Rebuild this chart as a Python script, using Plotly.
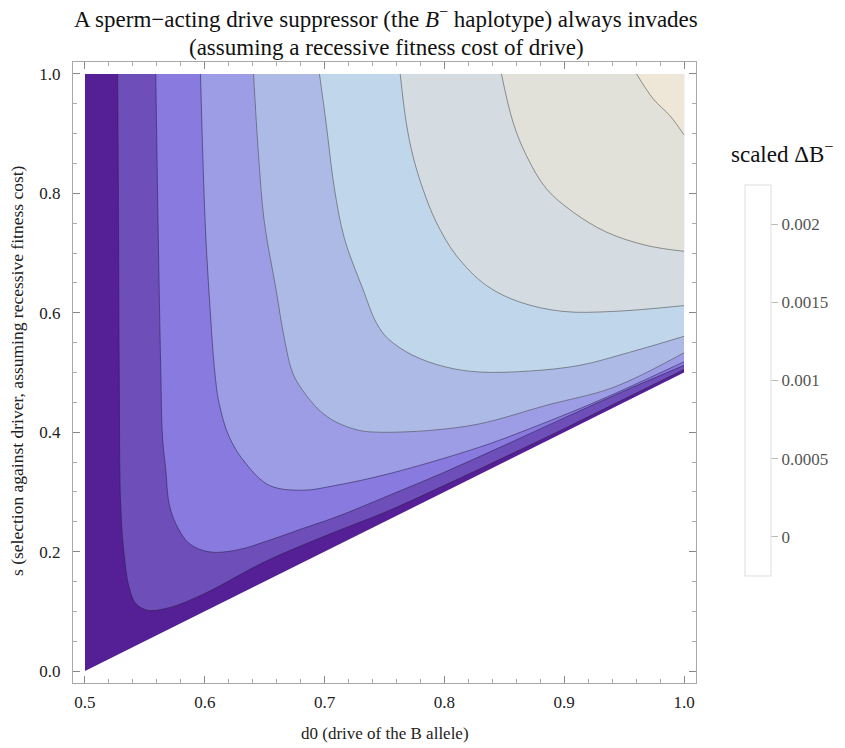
import plotly.graph_objects as go

# Contour levels of the scaled change in B- frequency
levels = [0.00025, 0.0005, 0.00075, 0.001, 0.00125, 0.0015, 0.00175, 0.002]

# Region fills, lowest band first
band_colors = ["#552096", "#6E4EB9", "#887ADE", "#9D9DE6", "#AEBAE6",
               "#C0D6EA", "#D4DCE2", "#E1E1DA", "#EEE6D6"]

# Feasible region: s above the line s = d0 - 0.5
domain_d0 = [0.5, 1.0, 1.0, 0.5]
domain_s = [0.0, 0.5, 1.0, 1.0]

# Contour lines (d0, s), traced from the top edge down and out to d0 = 1
c1_d0 = [0.5273, 0.5280, 0.5286, 0.5298, 0.5326, 0.5368, 0.5424, 0.552, 0.570, 0.600, 0.650, 0.700, 0.754, 0.800, 0.850, 0.900, 0.950, 1.0]
c1_s = [1.0, 0.75, 0.50, 0.28, 0.197, 0.141, 0.113, 0.102, 0.106, 0.130, 0.183, 0.226, 0.269, 0.311, 0.358, 0.406, 0.4555, 0.505]

c2_d0 = [0.5591, 0.561, 0.5633, 0.5647, 0.5675, 0.5702, 0.5758, 0.587, 0.6037, 0.626, 0.6538, 0.6817, 0.7096, 0.7542, 0.800, 0.850, 0.900, 0.950, 1.0]
c2_s = [1.0, 0.75, 0.50, 0.392, 0.336, 0.2805, 0.247, 0.2136, 0.1996, 0.2024, 0.219, 0.2387, 0.258, 0.2945, 0.333, 0.378, 0.424, 0.469, 0.512]

c3_d0 = [0.5964, 0.6003, 0.604, 0.6084, 0.612, 0.6204, 0.6343, 0.6538, 0.6817, 0.7096, 0.7542, 0.8294, 0.870, 0.930, 1.0]
c3_s = [1.0, 0.752, 0.62, 0.50, 0.448, 0.392, 0.3475, 0.311, 0.3028, 0.311, 0.3307, 0.375, 0.405, 0.454, 0.518]

c4_d0 = [0.6407, 0.6449, 0.6497, 0.6594, 0.6664, 0.6734, 0.6817, 0.6957, 0.7096, 0.729, 0.7458, 0.7876, 0.8294, 0.885, 0.9409, 1.0]
c4_s = [1.0, 0.863, 0.752, 0.640, 0.557, 0.499, 0.470, 0.4367, 0.417, 0.403, 0.400, 0.403, 0.414, 0.445, 0.475, 0.533]

c5_d0 = [0.6957, 0.7012, 0.7082, 0.7166, 0.7319, 0.7430, 0.7528, 0.7737, 0.8016, 0.8294, 0.8712, 0.913, 0.9548, 1.0]
c5_s = [1.0, 0.919, 0.808, 0.724, 0.640, 0.584, 0.557, 0.5287, 0.509, 0.5008, 0.5025, 0.512, 0.534, 0.5605]

c6_d0 = [0.7631, 0.7681, 0.7737, 0.782, 0.7932, 0.8099, 0.835, 0.8629, 0.899, 0.9409, 1.0]
c6_s = [1.0, 0.919, 0.863, 0.8076, 0.7518, 0.696, 0.6458, 0.618, 0.6023, 0.6023, 0.612]

c7_d0 = [0.8476, 0.8573, 0.8685, 0.8852, 0.9075, 0.9354, 0.9688, 1.0]
c7_s = [1.0, 0.919, 0.863, 0.8076, 0.7685, 0.735, 0.7127, 0.703]

c8_d0 = [0.9604, 0.9744, 0.9883, 1.0]
c8_s = [1.0, 0.958, 0.930, 0.898]

contours_d0 = [c1_d0, c2_d0, c3_d0, c4_d0, c5_d0, c6_d0, c7_d0, c8_d0]
contours_s = [c1_s, c2_s, c3_s, c4_s, c5_s, c6_s, c7_s, c8_s]

# Colour bar ticks
cbar_vals = [0, 0.0005, 0.001, 0.0015, 0.002]
cbar_text = ["0", "0.0005", "0.001", "0.0015", "0.002"]
cbar_min, cbar_max = -0.00025, 0.00225

SERIF = "Liberation Serif"

fig = go.Figure()

# lowest band covers the whole feasible triangle
fig.add_trace(go.Scatter(x=domain_d0, y=domain_s, mode="lines", fill="toself",
                         fillcolor=band_colors[0], line=dict(width=0),
                         hoverinfo="skip", showlegend=False))

# each higher band: area between its smoothed contour and the top/right edges
for k, (xd, ys) in enumerate(zip(contours_d0, contours_s)):
    fig.add_trace(go.Scatter(x=[xd[0], 1.0, 1.0], y=[1.0, 1.0, ys[-1]],
                             mode="lines", line=dict(width=0, color="rgba(0,0,0,0)"),
                             hoverinfo="skip", showlegend=False))
    fig.add_trace(go.Scatter(x=xd, y=ys, mode="lines", fill="tonext",
                             fillcolor=band_colors[k + 1],
                             line=dict(width=0, color="rgba(0,0,0,0)", shape="spline", smoothing=1),
                             hoverinfo="skip", showlegend=False))

# contour lines on top
for k, (xd, ys) in enumerate(zip(contours_d0, contours_s)):
    col = "rgba(40,30,70,0.55)" if k < 3 else "rgba(70,70,70,0.55)"
    fig.add_trace(go.Scatter(x=xd, y=ys, mode="lines",
                             line=dict(color=col, width=1, shape="spline", smoothing=1),
                             hoverinfo="skip", showlegend=False))

# colour bar legend
fig.add_trace(go.Scatter(
    x=[0.75], y=[0.9], mode="markers", hoverinfo="skip", showlegend=False,
    marker=dict(size=1, opacity=0, color=[0.001],
                colorscale=[[0, "#ffffff"], [1, "#ffffff"]],
                cmin=cbar_min, cmax=cbar_max, showscale=True,
                colorbar=dict(x=(745 - 73) / 623, xanchor="left", xpad=0,
                              y=(683 - 380.5) / 621, yanchor="middle", ypad=0,
                              lenmode="pixels", len=391, thickness=26,
                              outlinecolor="#dddddd", outlinewidth=1,
                              tickmode="array", tickvals=cbar_vals, ticktext=cbar_text,
                              ticks="outside", ticklen=7, tickcolor="#bbbbbb",
                              tickfont=dict(family=SERIF, size=17, color="#555555")))))

axis_common = dict(showgrid=False, zeroline=False, showline=True, mirror="allticks",
                   linecolor="#a8a8a8", linewidth=1, ticks="inside", ticklen=7,
                   tickcolor="#888888", tickwidth=1,
                   tickfont=dict(family=SERIF, size=17, color="#222222"))

fig.update_xaxes(range=[0.49, 1.01], tick0=0.5, dtick=0.1, tickformat=".1f",
                 ticklabelstandoff=4,
                 minor=dict(ticks="inside", dtick=0.02, tick0=0.5, ticklen=4,
                            tickcolor="#aaaaaa"),
                 **axis_common)
fig.update_yaxes(range=[-0.02, 1.02], tick0=0, dtick=0.2, tickformat=".1f",
                 ticklabelstandoff=8,
                 minor=dict(ticks="inside", dtick=0.05, tick0=0, ticklen=4,
                            tickcolor="#aaaaaa"),
                 **axis_common)

fig.update_layout(
    width=845, height=748,
    margin=dict(l=73, r=149, t=62, b=65),
    paper_bgcolor="white", plot_bgcolor="white",
    font=dict(family=SERIF, color="#222222"),
    annotations=[
        dict(text="A sperm\u2212acting drive suppressor (the <i>B</i><sup>\u2212</sup> haplotype) always invades",
             x=386, y=748 - 18, showarrow=False,
             font=dict(size=23, family=SERIF, color="#111111")),
        dict(text="(assuming a recessive fitness cost of drive)",
             x=386, y=748 - 48, showarrow=False,
             font=dict(size=23, family=SERIF, color="#111111")),
        dict(text="d0 (drive of the B allele)", x=385, y=748 - 733, showarrow=False,
             font=dict(size=17, family=SERIF, color="#222222")),
        dict(text="s (selection against driver, assuming recessive fitness cost)",
             x=17, y=748 - 371, textangle=-90, showarrow=False,
             font=dict(size=17.5, family=SERIF, color="#222222")),
        dict(text="scaled \u0394B<sup>\u2212</sup>", x=782, y=748 - 152, showarrow=False,
             font=dict(size=23, family=SERIF, color="#111111")),
    ],
)

# annotation positions above are in pixels; convert to paper coordinates
pw, ph = 845 - 73 - 149, 748 - 62 - 65
for a in fig.layout.annotations:
    a.xref, a.yref = "paper", "paper"
    a.x = (a.x - 73) / pw
    a.y = (a.y - 65) / ph
    a.xanchor, a.yanchor = "center", "middle"

fig.write_html("out.html")
